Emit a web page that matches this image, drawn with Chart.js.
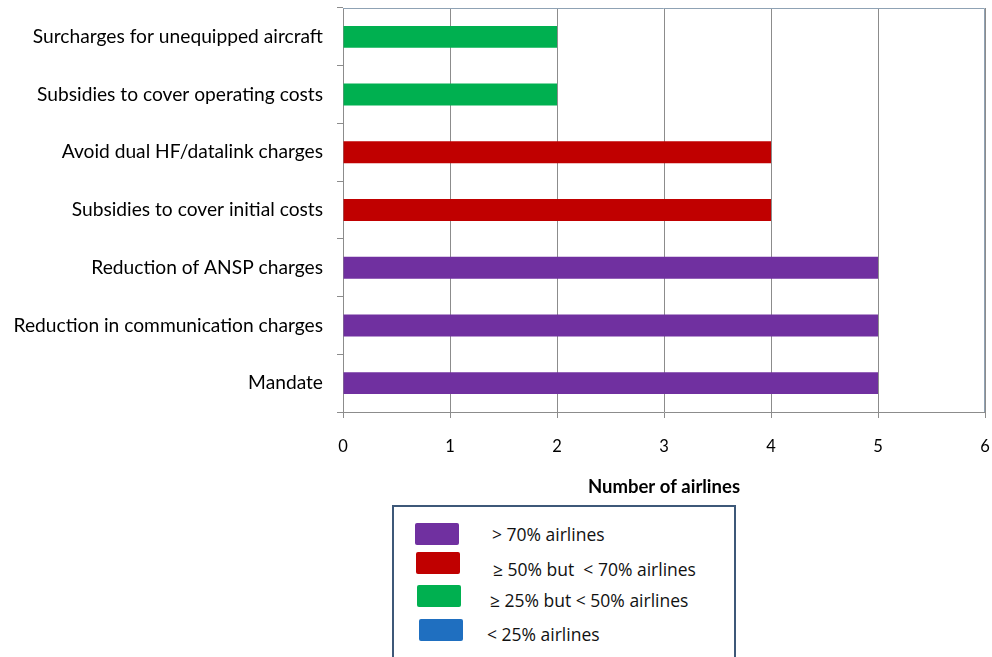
<!DOCTYPE html>
<html lang="en">
<head>
  <meta charset="UTF-8">
  <title>Number of airlines</title>
  <script src="https://cdn.jsdelivr.net/npm/chart.js"></script>
  <style>
    body { margin: 0; background: #fff; }
    .wrap { position: relative; width: 992px; height: 657px; overflow: hidden; }
    .legend-box {
      position: absolute; left: 392px; top: 505px; width: 340px; height: 170px;
      border: 2.5px solid #3d5878; background: #fff;
      font-family: "Open Sans", sans-serif; font-size: 17.5px; color: #111;
    }
    .legend-row { position: absolute; left: 0; height: 24px; }
    .legend-row .sw { position: absolute; top: 0; width: 44px; height: 22px; border-radius: 2px; }
    .legend-row .lb { position: absolute; line-height: 22px; white-space: pre; }
  </style>
</head>
<body>

<div class="wrap">
  <canvas id="chart" width="992" height="657"></canvas>
  <div class="legend-box" id="legend"></div>
</div>

<script>
  // categories, top to bottom
  const categories = [
    'Surcharges for unequipped aircraft',
    'Subsidies to cover operating costs',
    'Avoid dual HF/datalink charges',
    'Subsidies to cover initial costs',
    'Reduction of ANSP charges',
    'Reduction in communication charges',
    'Mandate'
  ];
  const airlines = [2, 2, 4, 4, 5, 5, 5];
  // which legend band each bar belongs to (index into legendLabels)
  const band = [2, 2, 1, 1, 0, 0, 0];

  const legendLabels = [
    '> 70% airlines',
    '\u2265 50% but  < 70% airlines',
    '\u2265 25% but < 50% airlines',
    '< 25% airlines'
  ];
  const xTicks = [0, 1, 2, 3, 4, 5, 6];

  const bandColors = ['#7030a0', '#c00000', '#00b050', '#1f6fc0'];

  // legend rows: top of swatch, left of swatch, left/top of text
  const legendTops = [16, 45, 78, 112];
  const swatchLefts = [21, 22, 23, 25];
  const textLefts = [98, 99, 96, 93];
  const textDrops = [0, 6, 4, 4];
  const legendEl = document.getElementById('legend');
  legendLabels.forEach((txt, i) => {
    const row = document.createElement('div');
    row.className = 'legend-row';
    row.style.top = legendTops[i] + 'px';
    const sw = document.createElement('div');
    sw.className = 'sw';
    sw.style.left = swatchLefts[i] + 'px';
    sw.style.background = bandColors[i];
    const lb = document.createElement('div');
    lb.className = 'lb';
    lb.style.left = textLefts[i] + 'px';
    lb.style.top = textDrops[i] + 'px';
    lb.textContent = txt;
    row.appendChild(sw);
    row.appendChild(lb);
    legendEl.appendChild(row);
  });

  const plotBorder = {
    id: 'plotBorder',
    afterDraw(chart) {
      const { ctx, chartArea: a } = chart;
      ctx.save();
      ctx.strokeStyle = '#8fa2b4';
      ctx.lineWidth = 1;
      ctx.beginPath();
      ctx.moveTo(a.left, a.top + 0.5);
      ctx.lineTo(a.right - 0.5, a.top + 0.5);
      ctx.lineTo(a.right - 0.5, a.bottom);
      ctx.stroke();
      ctx.restore();
    }
  };

  new Chart(document.getElementById('chart'), {
    type: 'bar',
    data: {
      labels: categories,
      datasets: [{
        data: airlines,
        backgroundColor: band.map(b => bandColors[b]),
        barPercentage: 0.38,
        categoryPercentage: 1
      }]
    },
    options: {
      indexAxis: 'y',
      responsive: false,
      animation: false,
      layout: { padding: { left: 0, top: 8, right: 7, bottom: 0 } },
      plugins: {
        legend: { display: false },
        tooltip: { enabled: false }
      },
      scales: {
        x: {
          min: 0,
          max: 6,
          afterBuildTicks: s => { s.ticks = xTicks.map(v => ({ value: v })); },
          afterFit: s => { s.height = 245; s.paddingLeft = 0; s.paddingRight = 0; },
          grid: { color: '#8c8c8c', tickLength: 6, tickColor: '#8c8c8c' },
          border: { color: '#8c8c8c' },
          ticks: { color: '#000', padding: 19, font: { family: 'Lato', size: 16.5 } },
          title: {
            display: true,
            text: 'Number of airlines',
            color: '#000',
            font: { family: 'Lato', size: 18.5, weight: 'bold' },
            padding: { top: 0, bottom: 159 }
          }
        },
        y: {
          afterFit: s => { s.width = 343; s.paddingTop = 0; s.paddingBottom = 0; },
          grid: { drawOnChartArea: false, tickLength: 6, color: '#8c8c8c' },
          border: { color: '#8c8c8c' },
          ticks: { color: '#000', padding: 14, font: { family: 'Lato', size: 19.2 } }
        }
      }
    },
    plugins: [plotBorder]
  });
</script>

</body>
</html>
